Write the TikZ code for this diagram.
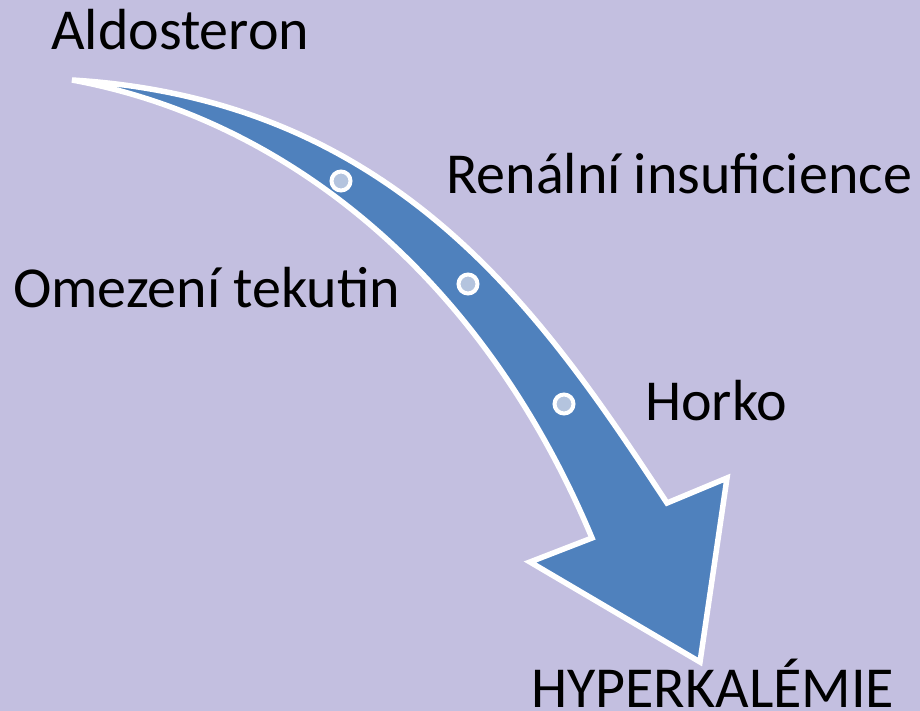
\documentclass[tikz,border=0pt]{standalone}
\usepackage{fontspec}
\setmainfont{Carlito}
\definecolor{bgcol}{RGB}{195,191,224}
\definecolor{arrowblue}{RGB}{79,129,189}
\definecolor{dotfill}{RGB}{180,196,222}
\tikzset{
  lbl/.style={anchor=base west, inner sep=0pt, font=\fontsize{58}{69}\selectfont, text=black},
  dotmark/.style={circle, draw=white, line width=4pt, fill=dotfill, minimum size=19pt, inner sep=0pt},
  bigarrow/.style={fill=arrowblue, draw=white, line width=5.5pt, line join=miter}
}
\begin{document}
\begin{tikzpicture}[x=1pt,y=-1pt]
\fill[bgcol] (0,0) rectangle (920,711);
\useasboundingbox (0,0) rectangle (920,711);
\draw[bigarrow] (72,80) .. controls (400,100) and (545,318) .. (667,503)
  -- (727,478) -- (700,662) -- (530,562) -- (592,538)
  .. controls (480,270) and (280,118) .. (72,80) -- cycle;
\node[dotmark] (d1) at (341,181) {};
\node[dotmark] (d2) at (468,284) {};
\node[dotmark] (d3) at (564,404) {};
\node[lbl] (aldo) at (51,50) {Aldosteron};
\node[lbl] (ren) at (446,194) {Renální insuficience};
\node[lbl] (ome) at (13,307) {Omezení tekutin};
\node[lbl] (hor) at (645,420) {Horko};
\node[lbl] (hyp) at (531,707) {HYPERKALÉMIE};
\end{tikzpicture}
\end{document}
